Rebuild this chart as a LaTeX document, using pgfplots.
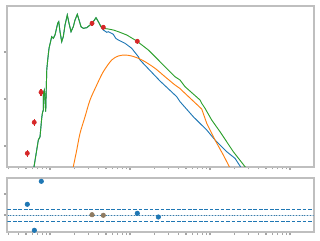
\documentclass[border=0pt]{standalone}
\usepackage{pgfplots}
\pgfplotsset{compat=1.18}
\definecolor{cA}{RGB}{31,119,180}
\definecolor{cB}{RGB}{255,127,14}
\definecolor{cC}{RGB}{44,160,44}
\definecolor{cD}{RGB}{214,39,40}
\definecolor{cMix}{RGB}{143,123,97}
\definecolor{frame}{RGB}{191,191,191}
\definecolor{tickc}{RGB}{165,165,165}
\pgfplotsset{
  sedframe/.style={
    scale only axis,
    width=229.8pt,
    xmin=-1.534, xmax=2.296,
    axis line style={draw=frame, line width=1.5pt},
    tick align=outside, tick pos=left,
    xtick={-1,0,1,2},
    minor xtick={-1.523,-1.398,-1.301,-1.222,-1.155,-1.097,-1.046,
      -0.699,-0.523,-0.398,-0.301,-0.222,-0.155,-0.097,-0.046,
      0.301,0.477,0.602,0.699,0.778,0.845,0.903,0.954,
      1.301,1.477,1.602,1.699,1.778,1.845,1.903,1.954},
    xticklabels={}, yticklabels={},
    major tick length=2.6pt, minor tick length=2.0pt,
    every major tick/.style={draw=tickc, line width=1.3pt},
    every minor tick/.style={draw=tickc, line width=0.9pt},
    clip=true,
  }
}
\begin{document}
\begin{tikzpicture}
\useasboundingbox (0,0) rectangle (240pt,180pt);
% top panel
\begin{axis}[sedframe, at={(5.475pt,54.975pt)}, anchor=south west,
  height=120.75pt, ymin=-1.440, ymax=1.985, ytick={-1,0,1}]
% model 1 (blue)
\addplot[cA, line width=0.7pt] table {
-1.212 -1.553
-1.200 -1.440
-1.146 -0.872
-1.125 -0.802
-1.104 -0.411
-1.096 -0.304
-1.084 -0.234
-1.084 0.121
-1.071 0.191
-1.054 -0.270
-1.041 0.617
-1.029 0.830
-1.0125 1.079
-0.979 1.326
-0.959 1.291
-0.9375 1.362
-0.904 1.611
-0.891 1.645
-0.875 1.432
-0.854 1.219
-0.834 1.326
-0.8125 1.574
-0.784 1.787
-0.7625 1.611
-0.7375 1.432
-0.709 1.538
-0.6875 1.681
-0.659 1.802
-0.6375 1.681
-0.6125 1.538
-0.584 1.504
-0.541 1.517
-0.500 1.574
-0.459 1.645
-0.425 1.730
-0.396 1.645
-0.3625 1.538
-0.334 1.468
-0.291 1.419
-0.271 1.432
-0.209 1.377
-0.179 1.291
-0.146 1.255
-0.0625 1.185
0.021 1.079
0.104 0.900
0.125 0.830
0.250 0.606
0.375 0.383
0.584 0.049
0.625 -0.057
0.791 -0.377
0.959 -0.660
1.0625 -0.872
1.209 -1.121
1.3125 -1.262
1.375 -1.426
1.400 -1.511
};
% model 2 (orange)
\addplot[cB, line width=0.7pt, smooth, tension=0.5] table {
-0.7125 -1.468
-0.709 -1.440
-0.666 -1.085
-0.625 -0.730
-0.5625 -0.377
-0.500 -0.021
-0.416 0.298
-0.334 0.581
-0.229 0.830
-0.146 0.915
-0.0625 0.936
0.021 0.915
0.104 0.866
0.1875 0.794
0.3125 0.653
0.4375 0.474
0.5625 0.298
0.625 0.223
0.666 0.155
0.896 -0.213
};
\addplot[cB, line width=0.7pt] table {
0.896 -0.213
0.959 -0.517
1.0625 -0.872
1.166 -1.191
1.241 -1.440
1.2625 -1.511
};
% total (green)
\addplot[cC, line width=0.7pt] table {
-1.212 -1.553
-1.200 -1.440
-1.146 -0.872
-1.125 -0.802
-1.104 -0.411
-1.096 -0.304
-1.084 -0.234
-1.084 0.121
-1.071 0.191
-1.054 -0.270
-1.041 0.617
-1.029 0.830
-1.0125 1.079
-0.979 1.326
-0.959 1.291
-0.9375 1.362
-0.904 1.611
-0.891 1.645
-0.875 1.432
-0.854 1.219
-0.834 1.326
-0.8125 1.574
-0.784 1.787
-0.7625 1.611
-0.7375 1.432
-0.709 1.538
-0.6875 1.681
-0.659 1.802
-0.6375 1.681
-0.6125 1.538
-0.584 1.504
-0.541 1.517
-0.500 1.574
-0.459 1.645
-0.425 1.730
-0.396 1.645
-0.3625 1.538
-0.334 1.504
-0.271 1.489
-0.209 1.468
-0.146 1.432
-0.041 1.362
0.084 1.234
0.229 1.043
0.375 0.794
0.5625 0.474
0.625 0.404
0.6875 0.262
0.875 -0.021
0.896 -0.091
0.9375 -0.198
1.021 -0.447
1.125 -0.696
1.291 -1.121
1.4375 -1.440
1.4625 -1.511
};
% observations
\addplot[only marks, mark=*, mark size=1.6pt, color=cD,
  mark options={draw=cD, fill=cD},
  error bars/.cd, y dir=both, y explicit,
  error bar style={cD, line width=0.8pt}, error mark=none]
coordinates {
(-1.284,-1.155) +- (0,0.08)
(-1.1975,-0.496) +- (0,0.08)
(-1.1125,0.143) +- (0,0.08)
(-0.475,1.611) +- (0,0.05)
(-0.334,1.526) +- (0,0.05)
(0.091,1.228) +- (0,0.05)
};
\end{axis}
% residual panel
\begin{axis}[sedframe, at={(5.475pt,6pt)}, anchor=south west,
  height=40.725pt, ymin=-0.81, ymax=1.776, ytick={0,1}]
\addplot[cA!30, line width=0.7pt] coordinates {(-1.6,-0.014) (2.4,-0.014)};
\addplot[cA!70!gray, line width=0.9pt, dash pattern=on 0.8pt off 1.3pt] coordinates {(-1.6,-0.014) (2.4,-0.014)};
\addplot[cA, line width=0.9pt, dash pattern=on 2.8pt off 1.3pt] coordinates {(-1.6,0.271) (2.4,0.271)};
\addplot[cA, line width=0.9pt, dash pattern=on 2.8pt off 1.3pt] coordinates {(-1.6,-0.30) (2.4,-0.30)};
\addplot[only marks, mark=*, mark size=1.7pt, mark options={draw=cA, fill=cA}] coordinates {
(-1.284,0.510)
(-1.196,-0.729)
(-1.109,1.605)
(0.091,0.081)
(0.354,-0.095)
};
\addplot[only marks, mark=*, mark size=1.7pt, mark options={draw=cMix, fill=cMix}] coordinates {
(-0.475,0.014)
(-0.334,-0.014)
};
\end{axis}
\end{tikzpicture}
\end{document}
